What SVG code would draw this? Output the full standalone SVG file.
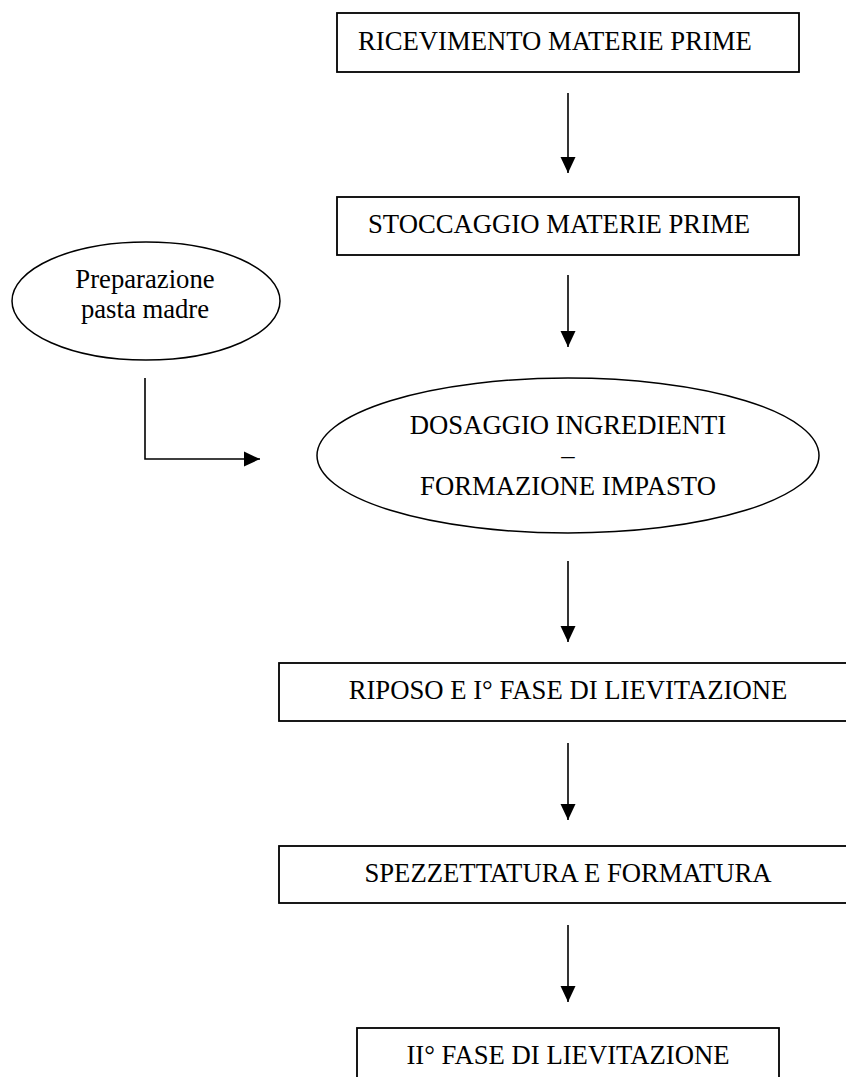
<svg xmlns="http://www.w3.org/2000/svg" width="846" height="1077" viewBox="0 0 846 1077">
  <style>
    .box { fill: #ffffff; stroke: #000000; stroke-width: 1.8; }
    .oval { fill: #ffffff; stroke: #000000; stroke-width: 1.5; }
    .lbl { font-family: "Liberation Serif", "Times New Roman", serif; font-size: 26.7px; fill: #000000; }
    .mid { text-anchor: middle; }
    .wire { fill: none; stroke: #000000; stroke-width: 1.6; }
  </style>
  <defs>
    <marker id="head" viewBox="0 0 16 16" refX="16" refY="8" markerWidth="16" markerHeight="16" markerUnits="userSpaceOnUse" orient="auto">
      <path d="M0,0.5 L16,8 L0,15.5 Z" fill="#000000"/>
    </marker>
  </defs>
  <rect width="846" height="1077" fill="#ffffff"/>

  <g id="ricevimento">
    <rect class="box" x="337" y="13" width="462" height="59"/>
    <text class="lbl" x="358" y="49.5">RICEVIMENTO MATERIE PRIME</text>
  </g>

  <g id="stoccaggio">
    <rect class="box" x="337" y="197" width="462" height="58"/>
    <text class="lbl" x="368" y="232.5">STOCCAGGIO MATERIE PRIME</text>
  </g>

  <g id="pasta-madre">
    <ellipse class="oval" cx="146" cy="301" rx="134" ry="59"/>
    <text class="lbl mid" x="145" y="288">Preparazione</text>
    <text class="lbl mid" x="145" y="318">pasta madre</text>
  </g>

  <g id="dosaggio">
    <ellipse class="oval" cx="568" cy="455.5" rx="251" ry="77.5"/>
    <text class="lbl mid" x="568" y="434">DOSAGGIO INGREDIENTI</text>
    <text class="lbl mid" x="568" y="464">–</text>
    <text class="lbl mid" x="568" y="495">FORMAZIONE IMPASTO</text>
  </g>

  <g id="riposo">
    <rect class="box" x="279" y="663" width="580" height="58"/>
    <text class="lbl mid" x="568" y="699">RIPOSO E I° FASE DI LIEVITAZIONE</text>
  </g>

  <g id="spezzettatura">
    <rect class="box" x="279" y="846" width="580" height="57"/>
    <text class="lbl mid" x="568" y="882">SPEZZETTATURA E FORMATURA</text>
  </g>

  <g id="seconda-lievitazione">
    <rect class="box" x="357" y="1028" width="422" height="60"/>
    <text class="lbl mid" x="568" y="1064">II° FASE DI LIEVITAZIONE</text>
  </g>

  <g id="connectors">
    <line class="wire" x1="568" y1="93" x2="568" y2="173" marker-end="url(#head)"/>
    <line class="wire" x1="568" y1="275" x2="568" y2="347" marker-end="url(#head)"/>
    <polyline class="wire" points="145,378 145,459 260,459" marker-end="url(#head)"/>
    <line class="wire" x1="568" y1="561" x2="568" y2="642" marker-end="url(#head)"/>
    <line class="wire" x1="568" y1="743" x2="568" y2="820" marker-end="url(#head)"/>
    <line class="wire" x1="568" y1="925" x2="568" y2="1002" marker-end="url(#head)"/>
  </g>
</svg>
